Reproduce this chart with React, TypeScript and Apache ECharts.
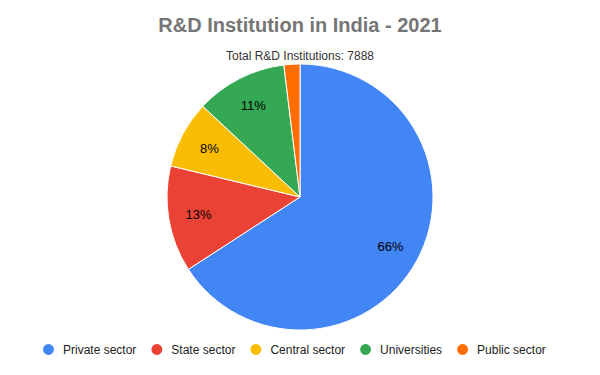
import React, { useEffect, useRef } from "react";
import * as echarts from "echarts";

const categories = ["Private sector", "State sector", "Central sector", "Universities", "Public sector"];
const values = [5194, 1018, 647, 876, 153];
const colors = ["#4285F4", "#EA4335", "#FBBC04", "#34A853", "#FF6D01"];
const titleText = "R&D Institution in India - 2021";
const subtitleText = "Total R&D Institutions: 7888";

export default function App() {
  const ref = useRef<HTMLDivElement>(null);
  useEffect(() => {
    if (!ref.current) return;
    const chart = echarts.init(ref.current, undefined, { renderer: "svg" });
    const font = "'Liberation Sans', Arial, sans-serif";
    const data = categories.map((c, i) => ({ name: c, value: values[i], itemStyle: { color: colors[i] } }));
    const labelData = categories.map((c, i) => ({
      name: c,
      value: values[i],
      label: { show: i !== 4 },
    }));
    chart.setOption({
      animation: false,
      color: colors,
      title: {
        text: titleText,
        subtext: subtitleText,
        left: "center",
        top: 10,
        itemGap: 15,
        textStyle: { fontFamily: font, fontSize: 20, fontWeight: "bold", color: "#757575" },
        subtextStyle: { fontFamily: font, fontSize: 12, color: "#333" },
      },
      legend: {
        bottom: 13,
        left: 36,
        icon: "circle",
        itemWidth: 13,
        itemHeight: 13,
        itemGap: 13,
        data: categories,
        textStyle: { fontFamily: font, fontSize: 12, color: "#222", padding: [0, 0, 0, 3] },
      },
      series: [
        {
          type: "pie",
          center: [300, 197],
          radius: [0, 133],
          startAngle: 90,
          clockwise: true,
          label: { show: false },
          labelLine: { show: false },
          itemStyle: { borderColor: "#fff", borderWidth: 1 },
          data,
        },
        {
          type: "pie",
          center: [300, 197],
          radius: [67, 133],
          startAngle: 90,
          clockwise: true,
          silent: true,
          legendHoverLink: false,
          itemStyle: { color: "rgba(0,0,0,0)" },
          label: {
            show: true,
            position: "inside",
            color: "#000",
            fontFamily: font,
            fontSize: 13,
            formatter: (p: any) => Math.round(p.percent) + "%",
          },
          labelLine: { show: false },
          data: labelData,
        },
      ],
    });
    return () => chart.dispose();
  }, []);
  return <div ref={ref} style={{ position: "fixed", left: 0, top: 0, width: 600, height: 375, background: "#fff" }} />;
}
